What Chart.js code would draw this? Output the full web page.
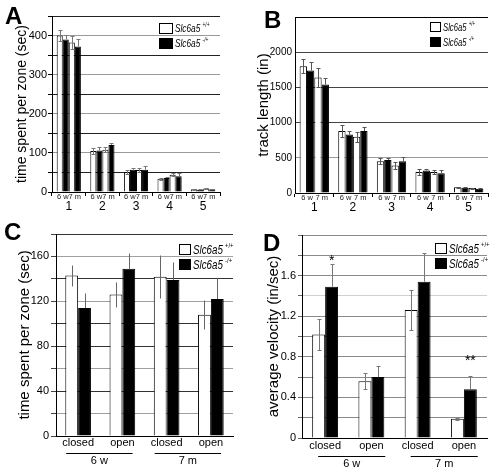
<!DOCTYPE html>
<html>
<head>
<meta charset="utf-8">
<script src="https://cdn.jsdelivr.net/npm/chart.js@4.4.1/dist/chart.umd.min.js"></script>
<style>
  body { margin: 0; background: #fff; }
  #fig { position: relative; width: 497px; height: 470px; overflow: hidden; font-family: "Liberation Sans", Arial, sans-serif; }
  canvas { position: absolute; display: block; }
  .tag { position: absolute; font-weight: bold; font-size: 24px; line-height: 24px; color: #000; }
</style>
</head>
<body>
<div id="fig">
  <canvas id="chartA" width="250" height="230" style="left:0;top:0"></canvas>
  <canvas id="chartB" width="247" height="230" style="left:250px;top:0"></canvas>
  <canvas id="chartC" width="250" height="240" style="left:0;top:230px"></canvas>
  <canvas id="chartD" width="247" height="240" style="left:250px;top:230px"></canvas>
  <div class="tag" style="left:5px;top:4px">A</div>
  <div class="tag" style="left:264px;top:8px">B</div>
  <div class="tag" style="left:4px;top:220px">C</div>
  <div class="tag" style="left:263px;top:231px">D</div>
</div>
<script>
const FONT = '"Liberation Sans", Arial, sans-serif';

const zones = ["1", "2", "3", "4", "5"];
const ages = ["6 w", "7 m"];
const arms = ["closed", "open", "closed", "open"];
const gene = "Slc6a5";
const genotypes = ["+/+", "-/+"];

// A: time spent per zone (sec)
const timeWt6w = [400, 105, 51, 34, 7];
const timeWt6wErr = [14, 8, 4, 3, 1];
const timeKo6w = [390, 106, 57, 36, 6];
const timeKo6wErr = [12, 8, 5, 3, 1];
const timeWt7m = [382, 108, 56, 44, 9];
const timeWt7mErr = [16, 7, 5, 4, 1];
const timeKo7m = [372, 120, 57, 40, 7];
const timeKo7mErr = [20, 6, 10, 8, 1];

// B: track length (in)
const trackWt6w = [1800, 880, 450, 300, 80];
const trackWt6wErr = [100, 80, 45, 40, 10];
const trackKo6w = [1740, 830, 470, 320, 75];
const trackKo6wErr = [120, 50, 30, 20, 8];
const trackWt7m = [1640, 800, 390, 300, 70];
const trackWt7mErr = [130, 70, 50, 30, 8];
const trackKo7m = [1540, 880, 450, 280, 60];
const trackKo7mErr = [100, 60, 60, 50, 8];

// C: time spent per arm (sec)
const armTimeWt = [143, 126, 142, 108];
const armTimeWtErr = [9, 11, 19, 13];
const armTimeKo = [114, 149, 139, 122];
const armTimeKoErr = [13, 14, 16, 19];

// D: average velocity (in/sec)
const velocityWt = [1.02, 0.56, 1.26, 0.19];
const velocityWtErr = [0.15, 0.08, 0.2, 0.01];
const velocityKo = [1.49, 0.60, 1.54, 0.48];
const velocityKoErr = [0.22, 0.11, 0.28, 0.13];
const velocityKoMarks = ["*", "", "", "**"];

const WHITE = "#ffffff";
const BLACK = "#000000";

function bars(label, data, errors, fill, catPct) {
  return {
    label: label,
    data: data,
    errors: errors,
    backgroundColor: fill,
    borderColor: "#000",
    borderWidth: 1,
    categoryPercentage: catPct,
    barPercentage: 1
  };
}

function yTitle(text, size, pad) {
  return { display: true, text: text, color: "#000", font: { size: size, family: FONT }, padding: { top: pad, bottom: 0 } };
}

// error bars, drawn through the y scale
const errorBars = {
  id: "errorBars",
  afterDatasetsDraw(chart, args, opts) {
    const ctx = chart.ctx;
    const y = chart.scales.y;
    const cap = opts.cap || 0;
    ctx.save();
    ctx.strokeStyle = opts.color || "#666";
    ctx.lineWidth = 1;
    chart.data.datasets.forEach((ds, i) => {
      if (!ds.errors) return;
      chart.getDatasetMeta(i).data.forEach((bar, j) => {
        const v = ds.data[j];
        const e = ds.errors[j];
        const x = Math.round(bar.x) + 0.5;
        const top = Math.round(y.getPixelForValue(v + e)) + 0.5;
        const bot = ds.backgroundColor === BLACK ? y.getPixelForValue(v) : Math.round(y.getPixelForValue(v - e)) + 0.5;
        ctx.beginPath();
        ctx.moveTo(x, top);
        ctx.lineTo(x, bot);
        if (cap) {
          ctx.moveTo(x - cap, top);
          ctx.lineTo(x + cap, top);
          if (ds.backgroundColor !== BLACK) {
            ctx.moveTo(x - cap, bot);
            ctx.lineTo(x + cap, bot);
          }
        }
        ctx.stroke();
      });
    });
    ctx.restore();
  }
};

// two-entry key with italic gene name and superscript genotype
const keyLegend = {
  id: "keyLegend",
  afterDraw(chart, args, o) {
    if (o.x === undefined) return;
    const ctx = chart.ctx;
    chart.data.datasets.slice(0, 2).forEach((ds, i) => {
      const by = o.y + i * o.gap;
      ctx.save();
      ctx.fillStyle = ds.backgroundColor;
      ctx.fillRect(o.x, by, o.w, o.h);
      ctx.strokeStyle = "#000";
      ctx.lineWidth = 1;
      ctx.strokeRect(o.x + 0.5, by + 0.5, o.w - 1, o.h - 1);
      ctx.translate(o.x + o.w + 2, by + o.h / 2 + 0.5);
      ctx.scale(o.squeeze, 1);
      ctx.fillStyle = "#000";
      ctx.textBaseline = "middle";
      ctx.font = "italic " + o.size + "px " + FONT;
      ctx.fillText(gene, 0, 0);
      const w = ctx.measureText(gene).width;
      ctx.font = (o.size * 0.6) + "px " + FONT;
      ctx.fillText(genotypes[i], w + 3, -o.size * 0.3);
      ctx.restore();
    });
  }
};

// "6 w" / "7 m" under each pair of bars in A and B
const ageLabels = {
  id: "ageLabels",
  afterDraw(chart, args, o) {
    if (!o.size) return;
    const ctx = chart.ctx;
    const bottom = chart.chartArea.bottom;
    ctx.save();
    ctx.fillStyle = "#222";
    ctx.font = o.size + "px " + FONT;
    ctx.textAlign = "center";
    ctx.textBaseline = "middle";
    chart.data.labels.forEach((lab, j) => {
      ages.forEach((age, k) => {
        const a = chart.getDatasetMeta(2 * k).data[j];
        const b = chart.getDatasetMeta(2 * k + 1).data[j];
        ctx.fillText(age, (a.x + b.x) / 2, bottom + o.dy);
      });
    });
    ctx.restore();
  }
};

// underlined age groups in C and D
const ageGroups = {
  id: "ageGroups",
  afterDraw(chart, args, o) {
    if (!o.size) return;
    const ctx = chart.ctx;
    const x = chart.scales.x;
    const bottom = chart.chartArea.bottom;
    const cw = x.getPixelForValue(1) - x.getPixelForValue(0);
    ctx.save();
    ctx.strokeStyle = "#000";
    ctx.fillStyle = "#000";
    ctx.lineWidth = 1;
    ctx.font = o.size + "px " + FONT;
    ctx.textAlign = "center";
    ctx.textBaseline = "middle";
    ages.forEach((age, k) => {
      const x0 = x.getPixelForValue(2 * k) - o.left * cw;
      const x1 = x.getPixelForValue(2 * k + 1) + o.right * cw;
      const ly = Math.round(bottom + o.lineY) + 0.5;
      ctx.beginPath();
      ctx.moveTo(x0, ly);
      ctx.lineTo(x1, ly);
      ctx.stroke();
      ctx.fillText(age, (x0 + x1) / 2, bottom + o.textY);
    });
    ctx.restore();
  }
};

// significance stars above error bars
const starMarks = {
  id: "starMarks",
  afterDatasetsDraw(chart, args, o) {
    if (!o.size) return;
    const ctx = chart.ctx;
    const y = chart.scales.y;
    ctx.save();
    ctx.fillStyle = "#000";
    ctx.font = o.size + "px " + FONT;
    ctx.textAlign = "center";
    ctx.textBaseline = "middle";
    chart.data.datasets.forEach((ds, i) => {
      if (!ds.marks) return;
      chart.getDatasetMeta(i).data.forEach((bar, j) => {
        if (!ds.marks[j]) return;
        const top = y.getPixelForValue(ds.data[j] + ds.errors[j]);
        ctx.fillText(ds.marks[j], bar.x, top - o.gaps[j]);
      });
    });
    ctx.restore();
  }
};

const allPlugins = [errorBars, keyLegend, ageLabels, ageGroups, starMarks];

function zoneAxis(height) {
  return {
    afterFit: s => { s.height = height; s.paddingLeft = 0; s.paddingRight = 0; },
    grid: { display: true, drawOnChartArea: false, drawTicks: true, tickLength: 4, offset: true, color: "#000", tickColor: "#000" },
    border: { display: true, color: "#000", z: 1 },
    ticks: { padding: 3, color: "#000", font: { size: 12, family: FONT }, maxRotation: 0, autoSkip: false }
  };
}

function armAxis(height, pad) {
  return {
    afterFit: s => { s.height = height; s.paddingLeft = 0; s.paddingRight = 0; },
    grid: { display: false, drawTicks: false },
    border: { display: true, color: "#000", z: 1 },
    ticks: { padding: pad, color: "#000", font: { size: 11, family: FONT }, maxRotation: 0, autoSkip: false }
  };
}

// A
new Chart(document.getElementById("chartA"), {
  type: "bar",
  data: {
    labels: zones,
    datasets: [
      bars("+/+ 6 w", timeWt6w, timeWt6wErr, WHITE, 0.72),
      bars("-/+ 6 w", timeKo6w, timeKo6wErr, BLACK, 0.72),
      bars("+/+ 7 m", timeWt7m, timeWt7mErr, WHITE, 0.72),
      bars("-/+ 7 m", timeKo7m, timeKo7mErr, BLACK, 0.72)
    ]
  },
  options: {
    responsive: false,
    animation: false,
    layout: { padding: { top: 16, right: 30, left: 0, bottom: 0 } },
    plugins: {
      legend: { display: false },
      tooltip: { enabled: false },
      errorBars: { cap: 2, color: "#777" },
      keyLegend: { x: 159, y: 23, w: 14, h: 11, gap: 15, size: 11.5, squeeze: 0.72 },
      ageLabels: { size: 7.5, dy: 4.5 }
    },
    scales: {
      x: zoneAxis(38),
      y: {
        min: 0,
        max: 450,
        afterFit: s => { s.width = 52; s.paddingTop = 0; s.paddingBottom = 0; },
        border: { color: "#000", z: 1 },
        grid: { color: c => (c.tick && c.tick.value % 100 === 0) ? "#9a9a9a" : "#222", tickColor: "#000", tickLength: 4 },
        ticks: { stepSize: 50, padding: 1, color: "#000", font: { size: 11, family: FONT }, callback: v => v % 100 === 0 ? v : "" },
        title: yTitle("time spent per zone (sec)", 14, 14)
      }
    }
  },
  plugins: allPlugins
});

// B
new Chart(document.getElementById("chartB"), {
  type: "bar",
  data: {
    labels: zones,
    datasets: [
      bars("+/+ 6 w", trackWt6w, trackWt6wErr, WHITE, 0.76),
      bars("-/+ 6 w", trackKo6w, trackKo6wErr, BLACK, 0.76),
      bars("+/+ 7 m", trackWt7m, trackWt7mErr, WHITE, 0.76),
      bars("-/+ 7 m", trackKo7m, trackKo7mErr, BLACK, 0.76)
    ]
  },
  options: {
    responsive: false,
    animation: false,
    layout: { padding: { top: 17, right: 9, left: 0, bottom: 0 } },
    plugins: {
      legend: { display: false },
      tooltip: { enabled: false },
      errorBars: { cap: 2, color: "#555" },
      keyLegend: { x: 180, y: 22, w: 11, h: 10, gap: 15, size: 11, squeeze: 0.7 },
      ageLabels: { size: 7.5, dy: 4.5 }
    },
    scales: {
      x: zoneAxis(37),
      y: {
        min: 0,
        max: 2500,
        afterFit: s => { s.width = 45; s.paddingTop = 0; s.paddingBottom = 0; },
        border: { color: "#000", z: 1 },
        grid: { color: c => (c.tick && c.tick.value === 500) ? "#9a9a9a" : (c.tick && c.tick.value === 2500 ? "#000" : "#444"), drawTicks: false },
        ticks: { stepSize: 500, padding: 3, color: "#000", font: { size: 10, family: FONT }, callback: v => v < 2500 ? v : "" },
        title: yTitle("track length (in)", 15, 5)
      }
    }
  },
  plugins: allPlugins
});

// C
const cDark = [40, 80, 100, 140, 180];
new Chart(document.getElementById("chartC"), {
  type: "bar",
  data: {
    labels: arms,
    datasets: [
      bars("+/+", armTimeWt, armTimeWtErr, WHITE, 0.58),
      bars("-/+", armTimeKo, armTimeKoErr, BLACK, 0.58)
    ]
  },
  options: {
    responsive: false,
    animation: false,
    layout: { padding: { top: 4, right: 17, left: 0, bottom: 0 } },
    plugins: {
      legend: { display: false },
      tooltip: { enabled: false },
      errorBars: { cap: 0, color: "#666" },
      keyLegend: { x: 179, y: 14, w: 12, h: 11, gap: 15, size: 13, squeeze: 0.75 },
      ageGroups: { size: 11, lineY: 17, textY: 25, left: 0.27, right: 0.23 }
    },
    scales: {
      x: armAxis(34, 0),
      y: {
        min: 0,
        max: 180,
        afterFit: s => { s.width = 56; s.paddingTop = 0; s.paddingBottom = 0; },
        border: { color: "#000", z: 1 },
        grid: { color: c => (c.tick && cDark.includes(c.tick.value)) ? "#333" : "#a0a0a0", tickColor: "#444", tickLength: 5 },
        ticks: { stepSize: 20, padding: 2, color: "#000", font: { size: 11, family: FONT }, callback: v => (v % 40 === 0 && v < 180) ? v : "" },
        title: yTitle("time spent per zone (sec)", 15, 16)
      }
    }
  },
  plugins: allPlugins
});

// D
const dVelKo = bars("-/+", velocityKo, velocityKoErr, BLACK, 0.56);
dVelKo.marks = velocityKoMarks;
new Chart(document.getElementById("chartD"), {
  type: "bar",
  data: {
    labels: arms,
    datasets: [
      bars("+/+", velocityWt, velocityWtErr, WHITE, 0.56),
      dVelKo
    ]
  },
  options: {
    responsive: false,
    animation: false,
    layout: { padding: { top: 5, right: 10, left: 0, bottom: 0 } },
    plugins: {
      legend: { display: false },
      tooltip: { enabled: false },
      errorBars: { cap: 2, color: "#777" },
      keyLegend: { x: 185, y: 13, w: 12, h: 11, gap: 15, size: 13, squeeze: 0.75 },
      ageGroups: { size: 11, lineY: 18, textY: 26, left: 0.15, right: 0.3 },
      starMarks: { size: 14, gaps: [3, 0, 0, 15] }
    },
    scales: {
      x: armAxis(32, 1),
      y: {
        min: 0,
        max: 2.0,
        afterFit: s => { s.width = 52; s.paddingTop = 0; s.paddingBottom = 0; },
        border: { color: "#000", z: 1 },
        grid: { color: c => (c.tick && Math.round(c.tick.value * 10) === 14) ? "#cfcfcf" : "#8a8a8a", tickColor: "#666", tickLength: 4 },
        ticks: {
          stepSize: 0.2,
          padding: 2,
          color: "#000",
          font: { size: 11, family: FONT },
          callback: v => {
            const t = Math.round(v * 10);
            if (t % 4 !== 0 || t >= 20) return "";
            return t === 0 ? "0" : (t / 10).toFixed(1);
          }
        },
        title: yTitle("average velocity (in/sec)", 15, 15)
      }
    }
  },
  plugins: allPlugins
});
</script>
</body>
</html>
